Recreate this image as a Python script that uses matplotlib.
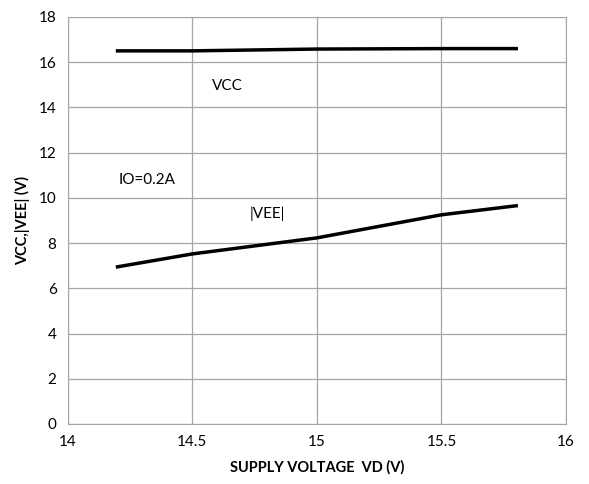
import matplotlib
matplotlib.use('Agg')
import matplotlib.pyplot as plt

plt.rcParams['font.family'] = ['Lato', 'DejaVu Sans']

vd = [14.2, 14.5, 15.0, 15.5, 15.8]
vcc = [16.5, 16.5, 16.58, 16.6, 16.6]
vee = [6.95, 7.52, 8.23, 9.25, 9.65]

fig = plt.figure(figsize=(5.89, 4.84), dpi=100)
ax = fig.add_axes([0.115, 0.124, 0.846, 0.841])

ax.plot(vd, vcc, color='black', linewidth=2.5)
ax.plot(vd, vee, color='black', linewidth=2.5)

ax.text(14.64, 14.95, 'VCC', fontsize=11, ha='center', va='center')
ax.text(14.32, 10.8, 'IO=0.2A', fontsize=11, ha='center', va='center')
ax.text(14.8, 9.3, '|VEE|', fontsize=11, ha='center', va='center')

ax.set_xlim(14, 16)
ax.set_ylim(0, 18)
ax.set_xticks([14, 14.5, 15, 15.5, 16])
ax.set_xticklabels(['14', '14.5', '15', '15.5', '16'])
ax.set_yticks(range(0, 19, 2))
ax.tick_params(length=0, labelsize=11, pad=8)
ax.grid(True, color='#a6a6a6', linewidth=0.9)
for s in ax.spines.values():
    s.set_color('#a6a6a6')

ax.set_xlabel('SUPPLY VOLTAGE  VD (V)', fontsize=10.5, fontweight='bold', labelpad=8)
ax.set_ylabel('VCC,|VEE| (V)', fontsize=10.5, fontweight='bold', labelpad=6)

fig.savefig('out.png', dpi=100)
